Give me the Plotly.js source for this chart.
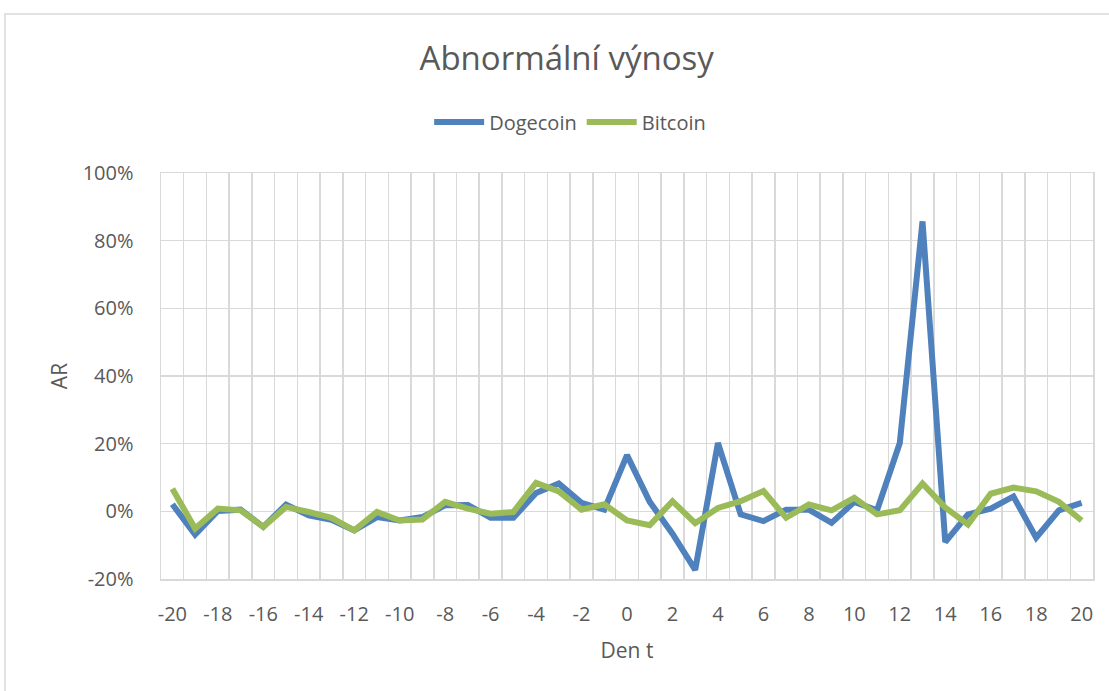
<!DOCTYPE html>
<html>
<head>
<meta charset="utf-8">
<script src="https://cdn.plot.ly/plotly-3.0.1.min.js"></script>
<style>html,body{margin:0;padding:0;background:#fff;}#chart{width:1109px;height:691px;}</style>
</head>
<body>
<div id="chart"></div>
<script>
const days = [-20,-19,-18,-17,-16,-15,-14,-13,-12,-11,-10,-9,-8,-7,-6,-5,-4,-3,-2,-1,0,1,2,3,4,5,6,7,8,9,10,11,12,13,14,15,16,17,18,19,20];
const dogecoin = [2.1,-6.9,0.1,0.5,-4.6,2.0,-1.2,-2.5,-5.6,-1.7,-2.7,-1.7,1.8,1.9,-1.9,-1.9,5.4,8.2,2.5,0.5,16.6,2.8,-6.6,-17.3,20.2,-0.9,-2.9,0.5,0.5,-3.4,2.8,0.3,20.2,85.7,-9.1,-0.9,0.8,4.4,-7.8,0.3,2.5];
const bitcoin = [6.7,-5.1,0.8,0.3,-4.6,1.3,-0.2,-1.9,-5.6,-0.2,-2.7,-2.4,2.8,0.8,-0.7,-0.2,8.4,5.9,0.5,2.1,-2.7,-4.1,3.0,-3.5,1.0,3.0,6.0,-1.9,2.0,0.3,4.0,-0.9,0.3,8.2,1.1,-3.9,5.2,7.0,5.9,2.8,-2.7];
const seriesNames = ["Dogecoin","Bitcoin"];
const xTickVals = [-20,-18,-16,-14,-12,-10,-8,-6,-4,-2,0,2,4,6,8,10,12,14,16,18,20];
const xTickText = ["-20","-18","-16","-14","-12","-10","-8","-6","-4","-2","0","2","4","6","8","10","12","14","16","18","20"];
const yTickVals = [-0.2,0,0.2,0.4,0.6,0.8,1.0];
const yTickText = ["-20%","0%","20%","40%","60%","80%","100%"];
const titleText = "Abnormální výnosy";
const xTitle = "Den t";
const yTitle = "AR";

const font = "'Open Sans', Lato, sans-serif";
const grid = "#d9d9d9";
const txt = "#595959";

const traces = [
  {x: days, y: dogecoin.map(v => v/100), name: seriesNames[0], type: "scatter", mode: "lines",
   line: {color: "#4f81bd", width: 6}},
  {x: days, y: bitcoin.map(v => v/100), name: seriesNames[1], type: "scatter", mode: "lines",
   line: {color: "#9bbb59", width: 6}}
];

const layout = {
  width: 1109, height: 691,
  margin: {l: 161, r: 16, t: 173, b: 112},
  paper_bgcolor: "#fff", plot_bgcolor: "#fff",
  font: {family: font, color: txt, size: 20},
  title: {text: titleText, font: {family: font, size: 33, color: txt}, x: 0.511, xanchor: "center", y: 0.916, yanchor: "middle"},
  showlegend: true,
  legend: {orientation: "h", x: 0.439, xanchor: "center", y: 1.1256, yanchor: "middle",
           font: {family: font, size: 20, color: txt}, itemwidth: 50, traceorder: "normal"},
  xaxis: {
    range: [-20.5, 20.5], tickmode: "array", tickvals: xTickVals, ticktext: xTickText,
    showgrid: false, zeroline: false, ticks: "", ticklabelstandoff: 16,
    showline: true, mirror: true, linecolor: grid, linewidth: 1.5,
    minor: {tickmode: "linear", tick0: -20.5, dtick: 1, showgrid: true, gridcolor: grid, gridwidth: 1.5, ticks: ""},
    title: {text: xTitle, font: {family: font, size: 21, color: txt}, standoff: 18},
    tickfont: {family: font, size: 20, color: txt}, fixedrange: true
  },
  yaxis: {
    range: [-0.2, 1.0], tickmode: "array", tickvals: yTickVals, ticktext: yTickText,
    showgrid: true, gridcolor: grid, gridwidth: 1.5, zeroline: false, ticks: "", ticklabelstandoff: 22,
    showline: true, mirror: true, linecolor: grid, linewidth: 1.5,
    title: {text: yTitle, font: {family: font, size: 21, color: txt}, standoff: 9},
    tickfont: {family: font, size: 20, color: txt}, fixedrange: true
  },
  shapes: [
    {type: "rect", xref: "paper", yref: "paper", x0: -0.1674, x1: 1.2, y0: -0.5, y1: 1.3916,
     line: {color: grid, width: 1.5}, fillcolor: "rgba(0,0,0,0)", layer: "below"}
  ]
};

Plotly.newPlot("chart", traces, layout, {displayModeBar: false, staticPlot: true});
</script>
</body>
</html>
